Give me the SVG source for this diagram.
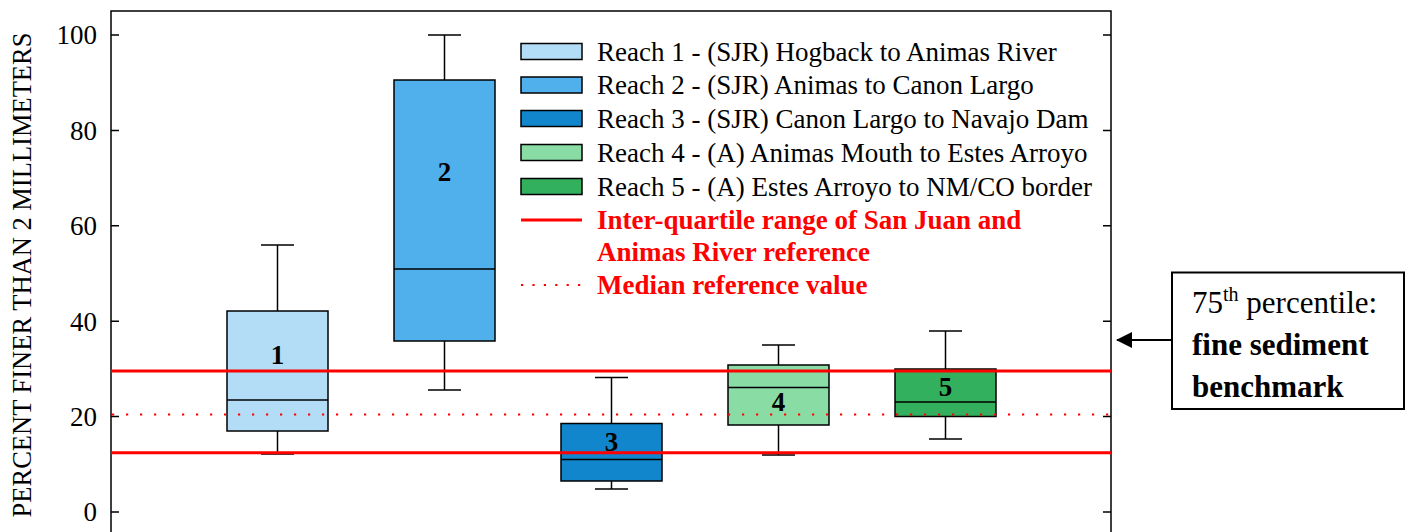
<svg xmlns="http://www.w3.org/2000/svg" width="1411" height="532" viewBox="0 0 1411 532">
<defs>
<style>
.t{font-family:"Liberation Serif","Times New Roman",serif;font-size:27px;fill:#000}
.tb{font-family:"Liberation Serif","Times New Roman",serif;font-size:27px;font-weight:bold;fill:#000}
.rb{font-family:"Liberation Serif","Times New Roman",serif;font-size:27px;font-weight:bold;fill:#ff0000}
.ax{stroke:#000;stroke-width:1.5;fill:none}
.bx{stroke:#000;stroke-width:1.5}
.wh{stroke:#000;stroke-width:1.5;fill:none}
.red{stroke:#ff0000;stroke-width:3;fill:none}
.dot{stroke:#ff0000;stroke-width:2.2;fill:none;stroke-dasharray:2.2 11.8}
</style>
<marker id="ah" markerWidth="16" markerHeight="16" refX="15" refY="8" orient="auto" markerUnits="userSpaceOnUse">
<path d="M0,0 L16,8 L0,16 Z" fill="#000"/>
</marker>
</defs>
<rect width="1411" height="532" fill="#fff"/>

<g id="axes">
<path class="ax" d="M111,540 V11 H1111 V540"/>
<path class="ax" d="M111,35 H119 M111,130.4 H119 M111,225.8 H119 M111,321.2 H119 M111,416.6 H119 M111,512 H119"/>
<path class="ax" d="M1103,35 H1111 M1103,130.4 H1111 M1103,225.8 H1111 M1103,321.2 H1111 M1103,416.6 H1111 M1103,512 H1111"/>
<g class="t" text-anchor="end">
<text x="97" y="44">100</text>
<text x="97" y="139.5">80</text>
<text x="97" y="235">60</text>
<text x="97" y="330.5">40</text>
<text x="97" y="426">20</text>
<text x="97" y="521">0</text>
</g>
<text class="t" text-anchor="middle" transform="translate(31,275) rotate(-90)" style="font-size:26.5px">PERCENT FINER THAN 2 MILLIMETERS</text>
</g>

<g id="reach1">
<path class="wh" d="M277.5,245 V311 M277.5,431 V454 M261,245 H294 M261,454 H294"/>
<rect class="bx" x="227" y="311" width="101" height="120" fill="#b3ddf6"/>
<path class="wh" d="M227,400 H328"/>
<text class="tb" x="277.5" y="364" text-anchor="middle">1</text>
</g>

<g id="reach2">
<path class="wh" d="M444.5,35 V80 M444.5,341 V390 M428,35 H461 M428,390 H461"/>
<rect class="bx" x="394" y="80" width="101" height="261" fill="#4fb0eb"/>
<path class="wh" d="M394,269 H495"/>
<text class="tb" x="444.5" y="181" text-anchor="middle">2</text>
</g>

<g id="reach3">
<path class="wh" d="M611.5,377.5 V423.5 M611.5,481 V489 M595,377.5 H628 M595,489 H628"/>
<rect class="bx" x="561" y="423.5" width="101" height="57.5" fill="#1186cc"/>
<path class="wh" d="M561,459.5 H662"/>
<text class="tb" x="611.5" y="451" text-anchor="middle">3</text>
</g>

<g id="reach4">
<path class="wh" d="M778.5,345 V365 M778.5,425 V455 M762,345 H795 M762,455 H795"/>
<rect class="bx" x="728" y="365" width="101" height="60" fill="#88dca4"/>
<path class="wh" d="M728,387.5 H829"/>
<text class="tb" x="778.5" y="411" text-anchor="middle">4</text>
</g>

<g id="reach5">
<path class="wh" d="M945.5,331 V369 M945.5,416.5 V439 M929,331 H962 M929,439 H962"/>
<rect class="bx" x="895" y="369" width="101" height="47.5" fill="#33b05d"/>
<path class="wh" d="M895,402 H996"/>
<text class="tb" x="945.5" y="396" text-anchor="middle">5</text>
</g>

<g id="reference-lines">
<path class="red" d="M111,371 H1111 M111,452.7 H1111"/>
<path class="dot" d="M112,414.5 H1111"/>
</g>

<g id="legend">
<rect class="bx" x="521" y="43.5" width="61" height="16" fill="#b3ddf6"/>
<rect class="bx" x="521" y="77" width="61" height="16" fill="#4fb0eb"/>
<rect class="bx" x="521" y="110.5" width="61" height="16" fill="#1186cc"/>
<rect class="bx" x="521" y="144.5" width="61" height="16" fill="#88dca4"/>
<rect class="bx" x="521" y="178.5" width="61" height="16" fill="#33b05d"/>
<path class="red" d="M521,220 H582"/>
<path class="dot" d="M521,285 H582" style="stroke-dasharray:2.2 9.2"/>
<text class="t" x="597" y="60.5">Reach 1 - (SJR) Hogback to Animas River</text>
<text class="t" x="597" y="94">Reach 2 - (SJR) Animas to Canon Largo</text>
<text class="t" x="597" y="128">Reach 3 - (SJR) Canon Largo to Navajo Dam</text>
<text class="t" x="597" y="161.5">Reach 4 - (A) Animas Mouth to Estes Arroyo</text>
<text class="t" x="597" y="195.5">Reach 5 - (A) Estes Arroyo to NM/CO border</text>
<text class="rb" x="597" y="229">Inter-quartile range of San Juan and</text>
<text class="rb" x="597" y="261">Animas River reference</text>
<text class="rb" x="597" y="294">Median reference value</text>
</g>

<g id="benchmark-note">
<rect x="1172" y="272.5" width="232" height="136.5" fill="#fff" stroke="#000" stroke-width="2"/>
<text class="t" x="1192" y="313" style="font-size:31px">75<tspan dy="-12" style="font-size:20px">th</tspan><tspan dy="12"> percentile:</tspan></text>
<text class="tb" x="1192" y="355" style="font-size:31px">fine sediment</text>
<text class="tb" x="1192" y="396.5" style="font-size:31px">benchmark</text>
</g>

<g id="connectors">
<path d="M1172,340 H1117" stroke="#000" stroke-width="2" fill="none" marker-end="url(#ah)"/>
</g>
</svg>
